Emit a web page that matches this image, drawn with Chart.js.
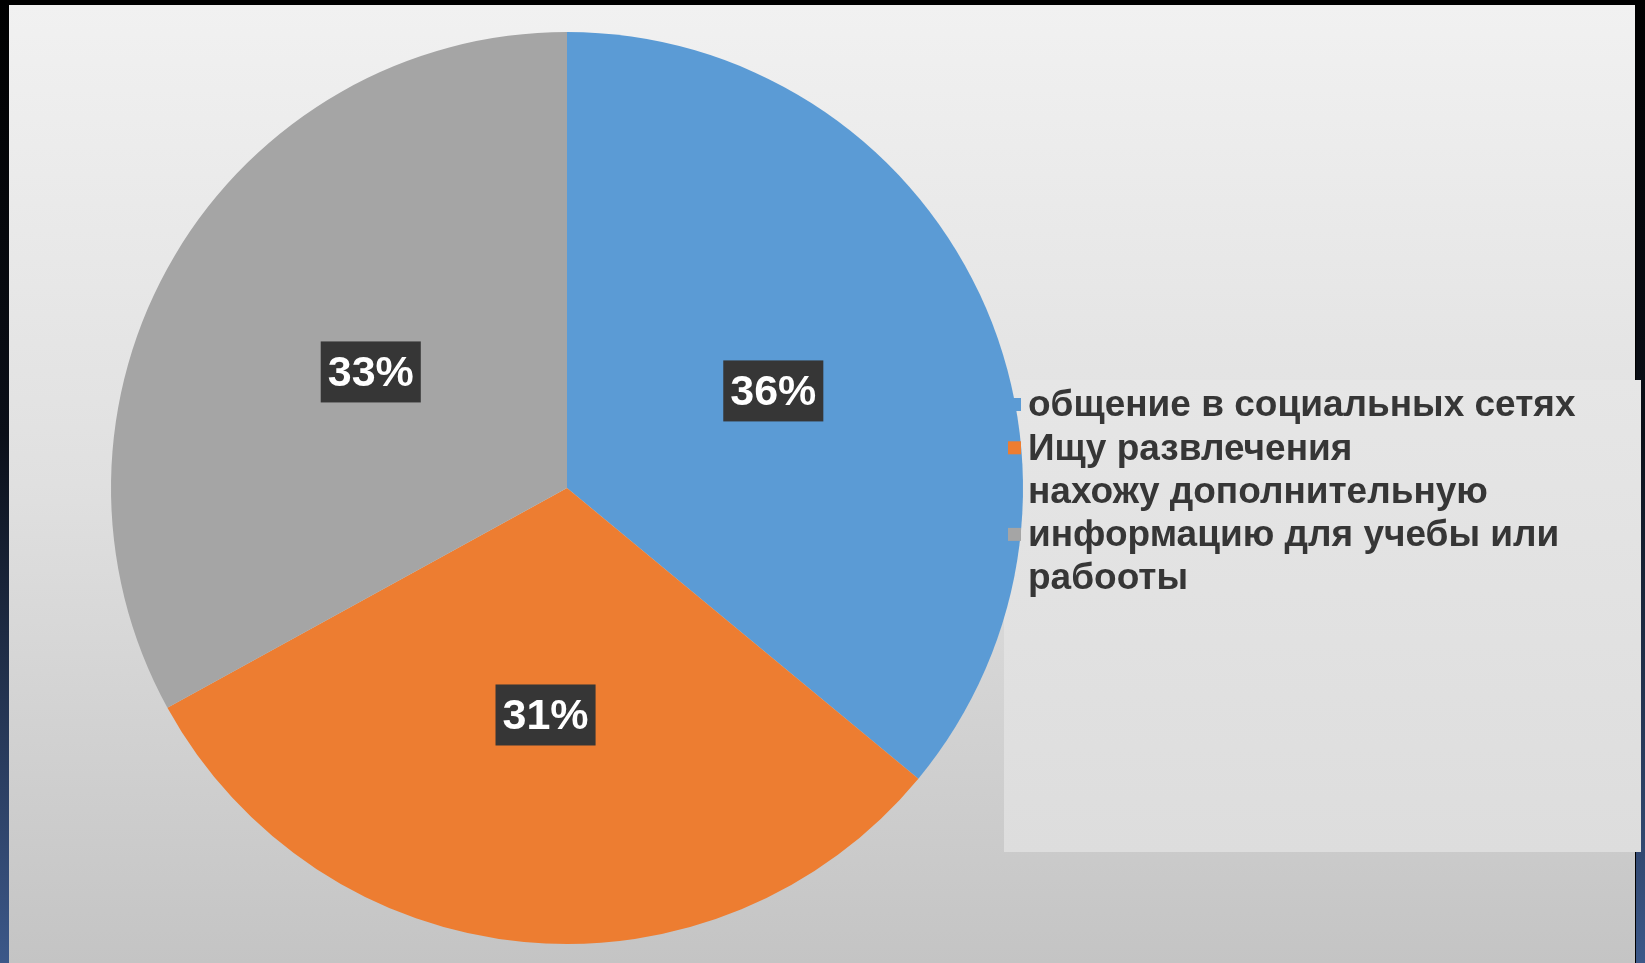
<!DOCTYPE html>
<html><head><meta charset="utf-8">
<script src="https://cdn.jsdelivr.net/npm/chart.js@4/dist/chart.umd.min.js"></script>
<style>html,body{margin:0;padding:0;background:#000;overflow:hidden}#wrap{width:1645px;height:963px;position:relative}canvas{display:block}</style>
</head><body><div id="wrap"><canvas id="c" width="1645" height="963"></canvas></div>
<script>
const categories = ['общение в социальных сетях', 'Ищу развлечения', 'нахожу дополнительную информацию для учебы или рабооты'];
const values = [36, 31, 33];
const valueLabels = ['36%', '31%', '33%'];
const colors = ['#5B9BD5', '#ED7D31', '#A5A5A5'];

const FONT = '"Liberation Sans", Arial, sans-serif';

const bgPlugin = {
  id: 'bg',
  beforeDraw(chart) {
    const ctx = chart.ctx, W = chart.width, H = chart.height;
    ctx.save();
    ctx.fillStyle = '#000';
    ctx.fillRect(0, 0, W, H);
    let g = ctx.createLinearGradient(0, 0, 0, H);
    g.addColorStop(0, '#000000');
    g.addColorStop(0.45, '#0b0f18');
    g.addColorStop(1, '#3c5889');
    ctx.fillStyle = g;
    ctx.fillRect(0, 0, 9, H);
    ctx.fillRect(W - 9, 0, 9, H);
    g = ctx.createLinearGradient(0, 5, 0, H);
    g.addColorStop(0, '#f1f1f1');
    g.addColorStop(0.5, '#e0e0e0');
    g.addColorStop(1, '#c4c4c4');
    ctx.fillStyle = g;
    ctx.fillRect(9, 5, 1626, H - 5);
    g = ctx.createLinearGradient(0, 380, 0, 852);
    g.addColorStop(0, '#e6e6e6');
    g.addColorStop(1, '#dddddd');
    ctx.fillStyle = g;
    ctx.fillRect(1004, 380, 637, 472);
    ctx.restore();
  }
};

function wrap(ctx, text, maxW) {
  const words = text.split(' ');
  const lines = [];
  let cur = '';
  for (const w of words) {
    const t = cur ? cur + ' ' + w : w;
    if (ctx.measureText(t).width > maxW && cur) { lines.push(cur); cur = w; }
    else cur = t;
  }
  if (cur) lines.push(cur);
  return lines;
}

const overlayPlugin = {
  id: 'overlay',
  afterDatasetsDraw(chart) {
    const ctx = chart.ctx;
    ctx.save();
    const meta = chart.getDatasetMeta(0);
    ctx.font = 'bold 43px ' + FONT;
    ctx.textAlign = 'center';
    ctx.textBaseline = 'middle';
    meta.data.forEach((el, i) => {
      const p = el.tooltipPosition();
      const txt = valueLabels[i];
      const w = ctx.measureText(txt).width + 14;
      const h = 61;
      ctx.fillStyle = '#363636';
      ctx.fillRect(p.x - w / 2, p.y - h / 2, w, h);
      ctx.fillStyle = '#ffffff';
      ctx.fillText(txt, p.x, p.y + 2);
    });
    ctx.font = 'bold 37px ' + FONT;
    ctx.textAlign = 'left';
    const lh = 43.3;
    let y = 405;
    const labels = chart.data.labels;
    labels.forEach((lab, i) => {
      const lines = wrap(ctx, lab, 590);
      const mid = y + (lines.length - 1) * lh / 2;
      ctx.fillStyle = colors[i];
      ctx.fillRect(1008, mid - 7, 13, 13);
      ctx.fillStyle = '#363636';
      lines.forEach((ln, k) => ctx.fillText(ln, 1028, y + k * lh + 1));
      y += lines.length * lh;
    });
    ctx.restore();
  }
};

new Chart(document.getElementById('c'), {
  type: 'pie',
  data: {
    labels: categories,
    datasets: [{ data: values, backgroundColor: colors, borderWidth: 0 }]
  },
  options: {
    responsive: false,
    animation: false,
    layout: { padding: { left: 111, top: 32, right: 622, bottom: 19 } },
    plugins: { legend: { display: false }, tooltip: { enabled: false } }
  },
  plugins: [bgPlugin, overlayPlugin]
});
</script>
</body></html>
